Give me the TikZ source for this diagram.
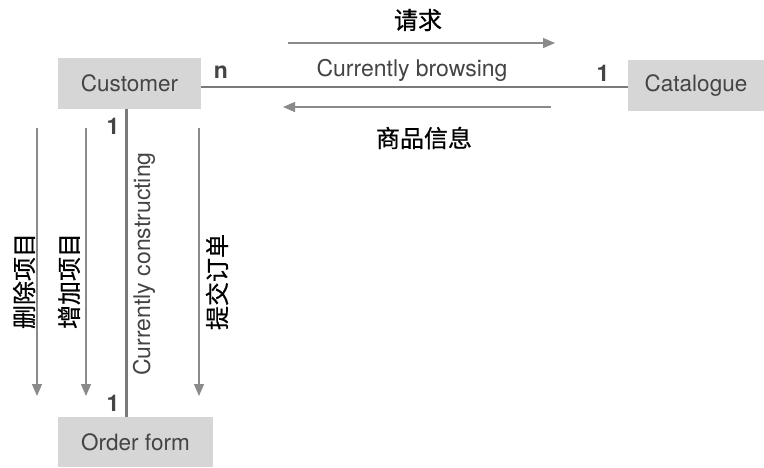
\documentclass[tikz,border=0pt]{standalone}
\usepackage{fontspec}
\setmainfont{TeX Gyre Heros}
\newfontfamily\cjk[FakeBold=0.6]{Noto Sans CJK SC}
\usetikzlibrary{arrows.meta}
\definecolor{boxfill}{HTML}{D6D6D6}
\definecolor{txt}{HTML}{444444}
\definecolor{relline}{HTML}{7A7A7A}
\definecolor{arrline}{HTML}{8A8A8A}
\tikzset{
  entity/.style={fill=boxfill, draw=none, inner sep=0pt, font=\fontsize{22.5}{26}\selectfont, text=txt},
  rel/.style={draw=relline, line width=2.6pt},
  msg/.style={draw=arrline, line width=1.3pt, -{Triangle[length=12pt,width=10pt]}},
  card/.style={font=\fontsize{23}{26}\selectfont\bfseries, text=txt, inner sep=0pt},
  rlabel/.style={font=\fontsize{23}{26}\selectfont, text=txt, inner sep=0pt},
  cn/.style={font=\cjk\fontsize{24}{28}\selectfont, text=black, inner sep=0pt}
}
\begin{document}
\begin{tikzpicture}[x=1pt,y=-1pt]
\useasboundingbox (0,0) rectangle (764,467);
\fill[white] (0,0) rectangle (764,467);
% entities
\node[entity, minimum width=143pt, minimum height=51pt] (cust) at (129.5,83) {Customer};
\node[entity, minimum width=136pt, minimum height=51pt] (cat) at (696,85.5) {Catalogue};
\node[entity, minimum width=155pt, minimum height=50pt] (ord) at (135.5,442) {Order form};
% relationships
\draw[rel] ([yshift=-4pt]cust.east) coordinate (h1) -- (h1 -| cat.west) coordinate (h2);
\draw[rel] ([xshift=-3pt]cust.south) coordinate (v1) -- (v1 |- ord.north) coordinate (v2);
% cardinalities
\node[card] (cn1) at (221,72) {n};
\node[card] (cc1) at (603,73) {1};
\node[card] (co1) at (113,126) {1};
\node[card] (co2) at (113,403) {1};
% relationship names
\node[rlabel] (rb) at (412,70) {Currently browsing};
\node[rlabel, rotate=90] (rc) at (144,264) {Currently constructing};
% messages
\coordinate (a1s) at (288,43); \coordinate (a1e) at (555,43);
\draw[msg] (a1s) -- (a1e);
\node[cn] (req) at (418,20) {请求};
\coordinate (a2s) at (551,107); \coordinate (a2e) at (283,107);
\draw[msg] (a2s) -- (a2e);
\node[cn] (info) at (424,138) {商品信息};
\coordinate (a3s) at (37,128); \coordinate (a3e) at (37,396);
\draw[msg] (a3s) -- (a3e);
\node[cn, rotate=90] (del) at (24,281) {删除项目};
\coordinate (a4s) at (86,128); \coordinate (a4e) at (86,396);
\draw[msg] (a4s) -- (a4e);
\node[cn, rotate=90] (add) at (69,281) {增加项目};
\coordinate (a5s) at (199,128); \coordinate (a5e) at (199,396);
\draw[msg] (a5s) -- (a5e);
\node[cn, rotate=90] (sub) at (217,282) {提交订单};
\end{tikzpicture}
\end{document}
